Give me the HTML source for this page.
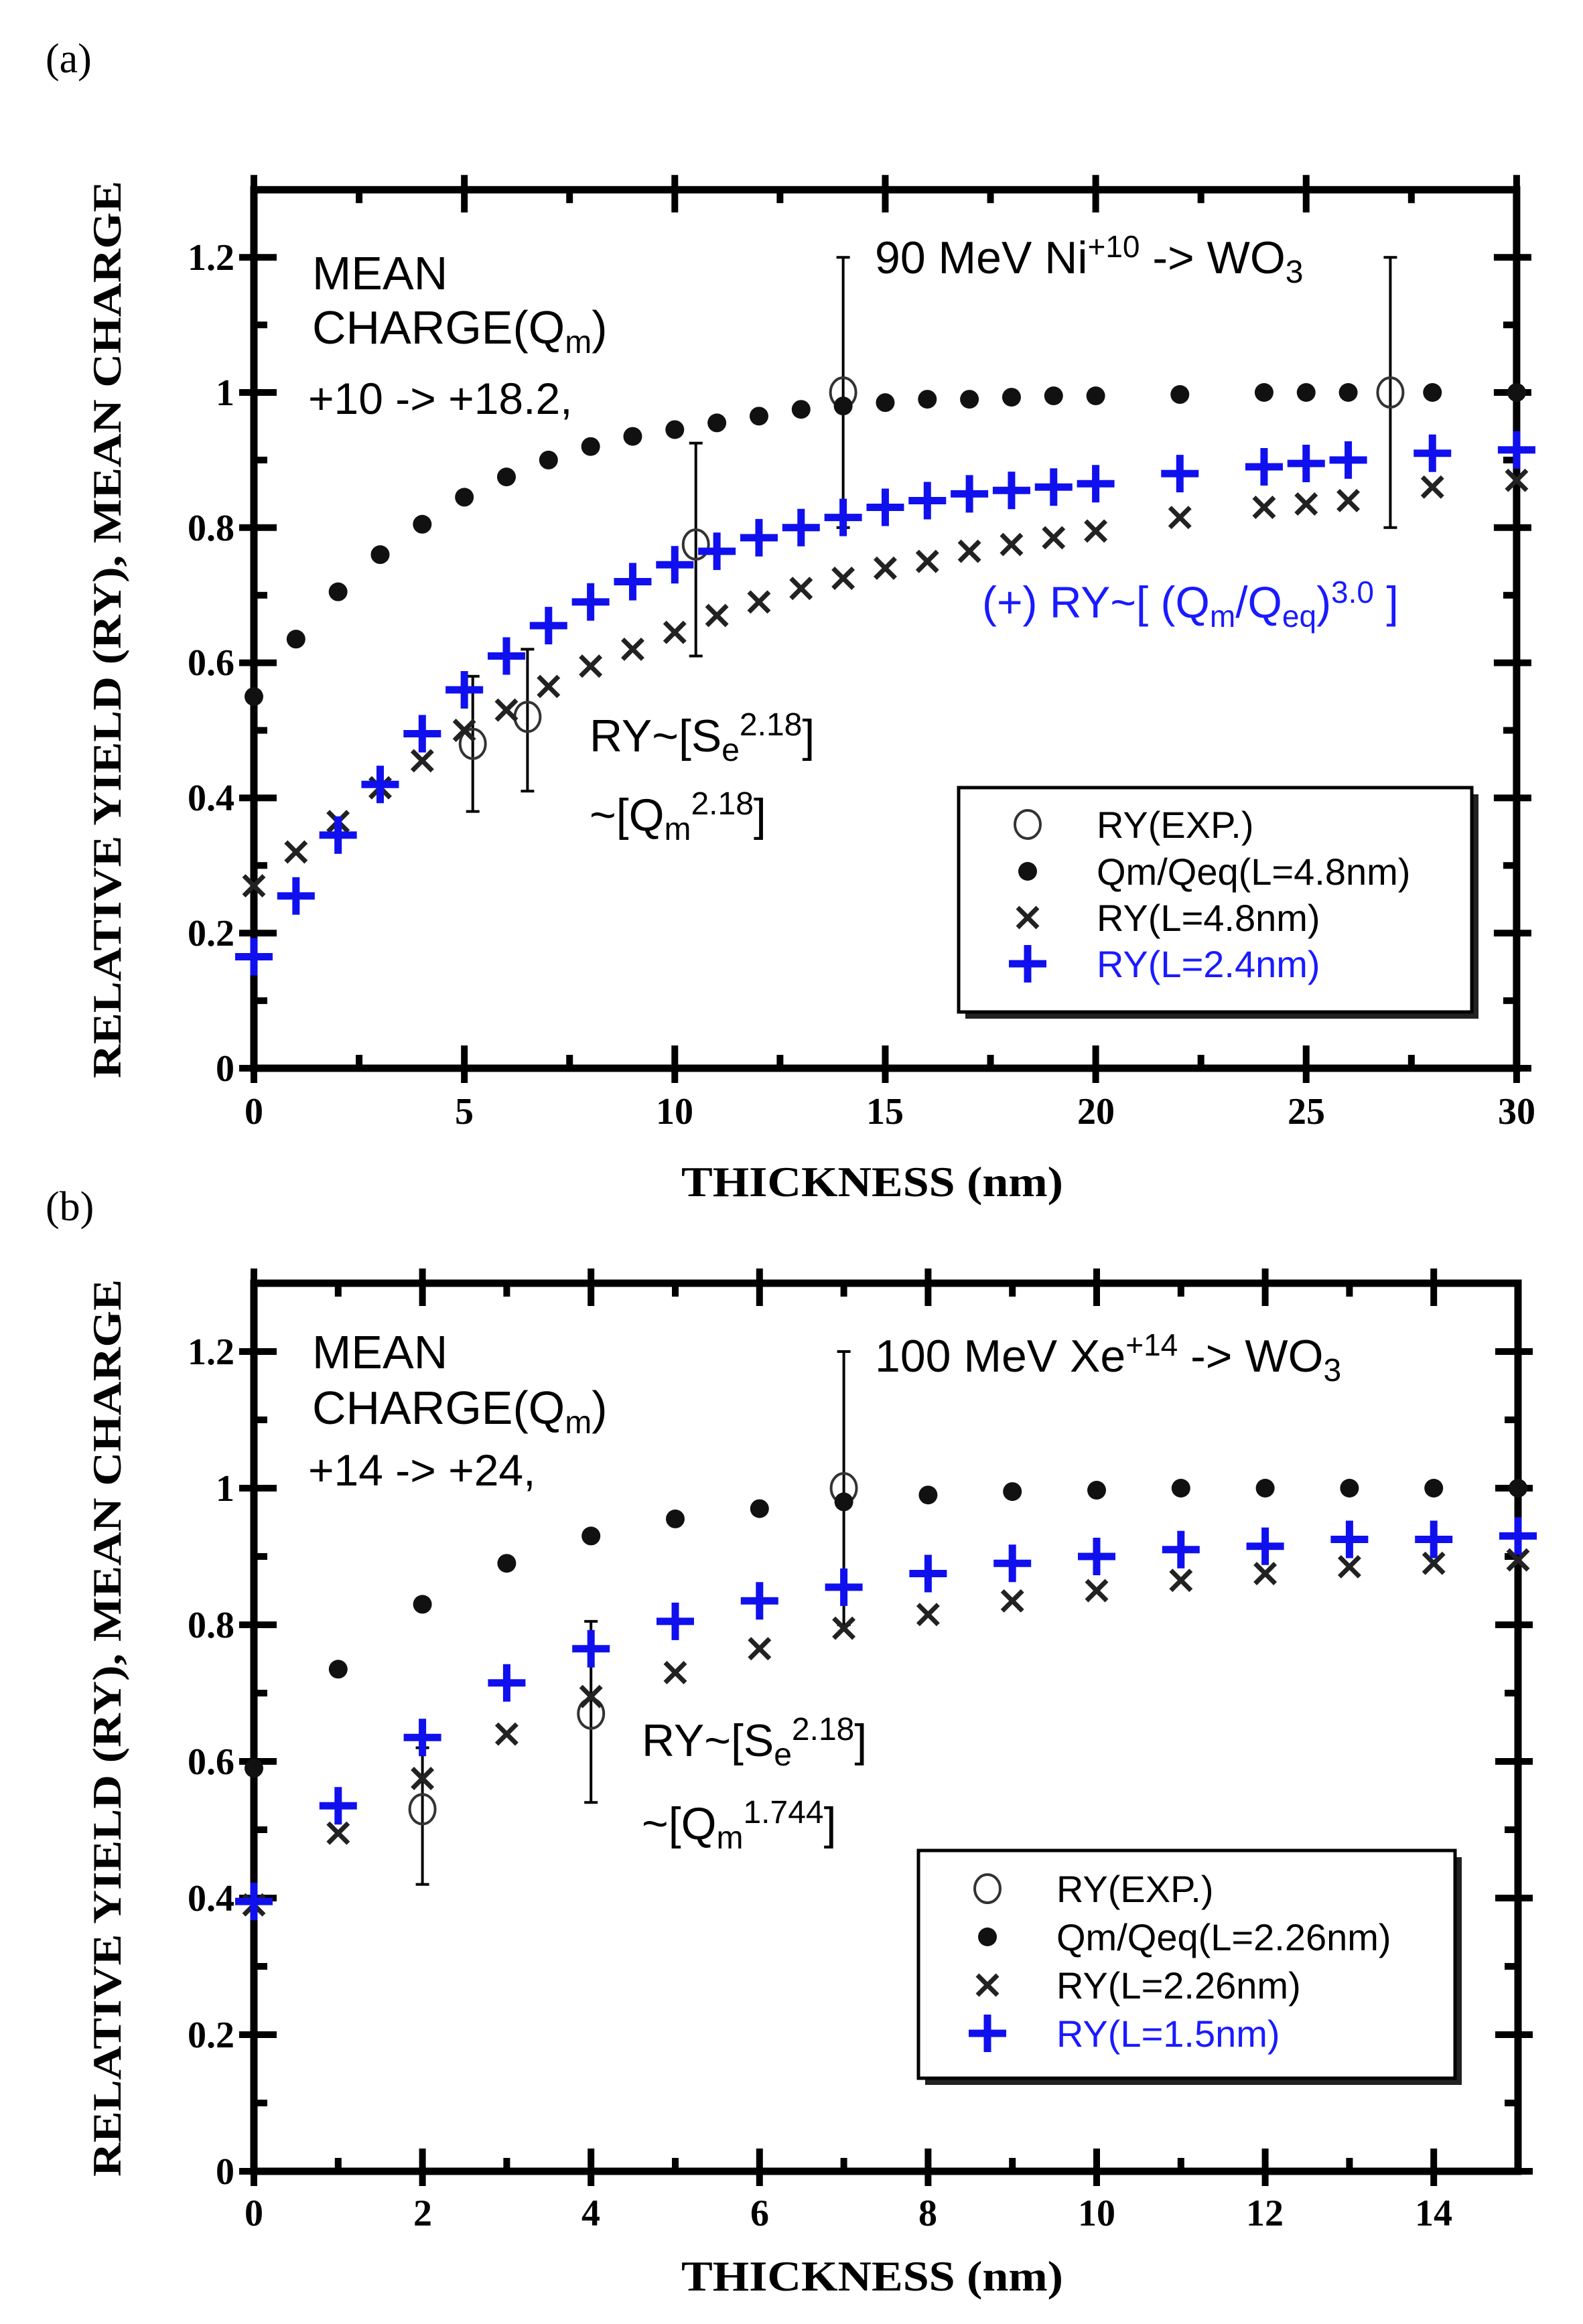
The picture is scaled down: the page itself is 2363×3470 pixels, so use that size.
<!DOCTYPE html>
<html><head><meta charset="utf-8">
<style>
html,body{margin:0;padding:0;background:#fff;}
svg{display:block;}
.ser{font-family:"Liberation Serif",serif;font-weight:bold;}
.san{font-family:"Liberation Sans",sans-serif;}
</style></head>
<body>
<svg id="s" width="2363" height="3470" viewBox="0 0 2363 3470" xmlns="http://www.w3.org/2000/svg">
<rect width="2363" height="3470" fill="#fff"/>
<text x="68" y="108" font-family="Liberation Serif, serif" font-size="62">(a)</text>
<text x="68" y="1822" font-family="Liberation Serif, serif" font-size="62">(b)</text>

<text class="ser" font-size="60" text-anchor="middle" textLength="1340" lengthAdjust="spacingAndGlyphs" transform="translate(180,940) rotate(-90)">RELATIVE YIELD (RY),  MEAN CHARGE</text>
<text class="ser" font-size="60" text-anchor="middle" textLength="1340" lengthAdjust="spacingAndGlyphs" transform="translate(180,2580) rotate(-90)">RELATIVE YIELD (RY),  MEAN CHARGE</text>

<text class="ser" font-size="64" text-anchor="middle" x="1302" y="1786" textLength="570" lengthAdjust="spacingAndGlyphs">THICKNESS  (nm)</text>
<text class="ser" font-size="64" text-anchor="middle" x="1302" y="3420" textLength="570" lengthAdjust="spacingAndGlyphs">THICKNESS  (nm)</text>

<rect x="1441" y="1186" width="766" height="335" fill="#222"/>
<rect x="1431" y="1176" width="766" height="335" fill="#fff" stroke="#000" stroke-width="5"/>
<rect x="1381" y="2773" width="801" height="340" fill="#222"/>
<rect x="1371" y="2763" width="801" height="340" fill="#fff" stroke="#000" stroke-width="5"/>

<g id="g"></g>

<g class="san" font-size="70">
<text x="466" y="432">MEAN</text>
<text x="466" y="513">CHARGE(Q<tspan font-size="48" dy="14">m</tspan><tspan dy="-14">)</tspan></text>
<text x="460" y="618" font-size="66">+10 -&gt; +18.2,</text>
<text x="1306" y="408" font-size="68">90 MeV Ni<tspan font-size="46" dy="-24">+10</tspan><tspan dy="24"> -&gt; WO</tspan><tspan font-size="48" dy="14">3</tspan></text>
<text x="1466" y="922" font-size="66" fill="#1a1aff">(+) RY~[ (Q<tspan font-size="46" dy="14">m</tspan><tspan dy="-14">/Q</tspan><tspan font-size="46" dy="14">eq</tspan><tspan dy="-14">)</tspan><tspan font-size="46" dy="-22">3.0</tspan><tspan dy="22"> ]</tspan></text>
<text x="880" y="1122" font-size="68">RY~[S<tspan font-size="48" dy="14">e</tspan><tspan font-size="48" dy="-38">2.18</tspan><tspan dy="24">]</tspan></text>
<text x="880" y="1240" font-size="68">~[Q<tspan font-size="48" dy="14">m</tspan><tspan font-size="48" dy="-38">2.18</tspan><tspan dy="24">]</tspan></text>
</g>
<g class="san" font-size="70">
<text x="466" y="2043">MEAN</text>
<text x="466" y="2126">CHARGE(Q<tspan font-size="48" dy="14">m</tspan><tspan dy="-14">)</tspan></text>
<text x="460" y="2218" font-size="66">+14 -&gt; +24,</text>
<text x="1306" y="2048" font-size="68">100 MeV Xe<tspan font-size="46" dy="-24">+14</tspan><tspan dy="24"> -&gt; WO</tspan><tspan font-size="48" dy="14">3</tspan></text>
<text x="958" y="2622" font-size="68">RY~[S<tspan font-size="48" dy="14">e</tspan><tspan font-size="48" dy="-38">2.18</tspan><tspan dy="24">]</tspan></text>
<text x="958" y="2746" font-size="68">~[Q<tspan font-size="48" dy="14">m</tspan><tspan font-size="48" dy="-38">1.744</tspan><tspan dy="24">]</tspan></text>
</g>

<g class="san" font-size="56">
<text x="1637" y="1251">RY(EXP.)</text>
<text x="1637" y="1321">Qm/Qeq(L=4.8nm)</text>
<text x="1637" y="1390">RY(L=4.8nm)</text>
<text x="1637" y="1459" fill="#1a1aff">RY(L=2.4nm)</text>
</g>
<g class="san" font-size="56">
<text x="1577" y="2840">RY(EXP.)</text>
<text x="1577" y="2912">Qm/Qeq(L=2.26nm)</text>
<text x="1577" y="2984">RY(L=2.26nm)</text>
<text x="1577" y="3056" fill="#1a1aff">RY(L=1.5nm)</text>
</g>

<g class="ser" font-size="56" text-anchor="end">
<text x="350" y="1614">0</text><text x="350" y="1412">0.2</text><text x="350" y="1210">0.4</text>
<text x="350" y="1008">0.6</text><text x="350" y="807">0.8</text><text x="350" y="605">1</text><text x="350" y="403">1.2</text>
</g>
<g class="ser" font-size="56" text-anchor="middle">
<text x="379" y="1678">0</text><text x="693" y="1678">5</text><text x="1007" y="1678">10</text><text x="1321" y="1678">15</text>
<text x="1636" y="1678">20</text><text x="1950" y="1678">25</text><text x="2264" y="1678">30</text>
</g>
<g class="ser" font-size="56" text-anchor="end">
<text x="350" y="3261">0</text><text x="350" y="3057">0.2</text><text x="350" y="2853">0.4</text>
<text x="350" y="2649">0.6</text><text x="350" y="2445">0.8</text><text x="350" y="2241">1</text><text x="350" y="2037">1.2</text>
</g>
<g class="ser" font-size="56" text-anchor="middle">
<text x="379" y="3323">0</text><text x="631" y="3323">2</text><text x="882" y="3323">4</text><text x="1134" y="3323">6</text>
<text x="1385" y="3323">8</text><text x="1637" y="3323">10</text><text x="1888" y="3323">12</text><text x="2140" y="3323">14</text>
</g>
</svg>
<script>
(function(){
var NS="http://www.w3.org/2000/svg",g=document.getElementById('g');
function el(t,a){var e=document.createElementNS(NS,t);for(var k in a)e.setAttribute(k,a[k]);g.appendChild(e);return e;}
function panel(P){
 var X=function(v){return P.x0+v*P.ux},Y=function(v){return P.y0-v*P.uy};
 var top=Y(1.3),right=X(P.xmax);
 for(var i=0;i<=13;i++){var y=Y(i*0.1),maj=i%2==0;
  el('line',{x1:P.x0-(maj?22:0),x2:P.x0+(maj?34:20),y1:y,y2:y,stroke:'#000','stroke-width':10});
  el('line',{x1:right+(maj?22:0),x2:right-(maj?34:20),y1:y,y2:y,stroke:'#000','stroke-width':10});}
 for(var t=0;t<=P.xmax+1e-9;t+=P.xt){var x=X(t),maj=Math.abs(t/P.xm-Math.round(t/P.xm))<1e-6;
  el('line',{x1:x,x2:x,y1:P.y0+(maj?22:0),y2:P.y0-(maj?34:20),stroke:'#000','stroke-width':10});
  el('line',{x1:x,x2:x,y1:top-(maj?22:0),y2:top+(maj?34:20),stroke:'#000','stroke-width':10});}
 el('rect',{x:P.x0,y:top,width:right-P.x0,height:P.y0-top,fill:'none',stroke:'#000','stroke-width':11});
 P.e.forEach(function(d){var x=X(d[0]);
  el('line',{x1:x,x2:x,y1:Y(d[2]),y2:Y(d[3]),stroke:'#000','stroke-width':4});
  el('line',{x1:x-10,x2:x+10,y1:Y(d[2]),y2:Y(d[2]),stroke:'#000','stroke-width':4});
  el('line',{x1:x-10,x2:x+10,y1:Y(d[3]),y2:Y(d[3]),stroke:'#000','stroke-width':4});
  el('ellipse',{cx:x,cy:Y(d[1]),rx:19,ry:22,fill:'none',stroke:'#333','stroke-width':4});});
 P.d.forEach(function(d){el('circle',{cx:X(d[0]),cy:Y(d[1]),r:14,fill:'#111'});});
 P.c.forEach(function(d){var x=X(d[0]),y=Y(d[1]),s=15;
  el('path',{d:'M'+(x-s)+' '+(y-s)+'L'+(x+s)+' '+(y+s)+'M'+(x+s)+' '+(y-s)+'L'+(x-s)+' '+(y+s),stroke:'#222','stroke-width':7});});
 P.p.forEach(function(d){var x=X(d[0]),y=Y(d[1]),s=28;
  el('path',{d:'M'+(x-s)+' '+y+'L'+(x+s)+' '+y+'M'+x+' '+(y-s)+'L'+x+' '+(y+s),stroke:'#1010ee','stroke-width':11});});
 var L=P.leg,x=L.x,y;
 el('ellipse',{cx:x,cy:L.y[0]-20,rx:19,ry:21,fill:'none',stroke:'#333','stroke-width':4});
 el('circle',{cx:x,cy:L.y[1]-20,r:14,fill:'#111'});
 y=L.y[2]-20;var s=15;
 el('path',{d:'M'+(x-s)+' '+(y-s)+'L'+(x+s)+' '+(y+s)+'M'+(x+s)+' '+(y-s)+'L'+(x-s)+' '+(y+s),stroke:'#222','stroke-width':7});
 y=L.y[3]-20;s=28;
 el('path',{d:'M'+(x-s)+' '+y+'L'+(x+s)+' '+y+'M'+x+' '+(y-s)+'L'+x+' '+(y+s),stroke:'#1010ee','stroke-width':11});
}
function z(a,b){return a.map(function(v,i){return [a[i],b[i]]});}
var ta=[0,1,2,3,4,5,6,7,8,9,10,11,12,13,14,15,16,17,18,19,20,22,24,25,26,28,30];
panel({x0:379,y0:1595,ux:62.83,uy:1009,xmax:30,xt:2.5,xm:5,
 d:z(ta,[0.55,0.635,0.705,0.76,0.805,0.845,0.875,0.9,0.92,0.935,0.945,0.955,0.965,0.975,0.98,0.985,0.99,0.99,0.993,0.995,0.995,0.997,1,1,1,1,1]),
 c:z(ta,[0.27,0.32,0.365,0.415,0.455,0.5,0.53,0.565,0.595,0.62,0.645,0.67,0.69,0.71,0.725,0.74,0.75,0.765,0.775,0.785,0.795,0.815,0.83,0.835,0.84,0.86,0.87]),
 p:z(ta,[0.165,0.255,0.345,0.42,0.495,0.56,0.61,0.655,0.69,0.72,0.745,0.765,0.785,0.8,0.815,0.83,0.84,0.85,0.855,0.86,0.865,0.88,0.89,0.895,0.9,0.91,0.915]),
 e:[[5.2,0.48,0.38,0.58],[6.5,0.52,0.41,0.62],[10.5,0.775,0.61,0.925],[14,1.0,0.8,1.2],[27,1.0,0.8,1.2]],
 leg:{x:1534,y:[1251,1321,1390,1459]}});
var tb=[0,1,2,3,4,5,6,7,8,9,10,11,12,13,14,15];
panel({x0:379,y0:3242,ux:125.8,uy:1020,xmax:15,xt:1,xm:2,
 d:z(tb,[0.59,0.735,0.83,0.89,0.93,0.955,0.97,0.98,0.99,0.995,0.997,1,1,1,1,1]),
 c:z(tb,[0.39,0.495,0.575,0.64,0.695,0.73,0.765,0.795,0.815,0.835,0.85,0.865,0.875,0.885,0.89,0.895]),
 p:z(tb,[0.395,0.535,0.635,0.715,0.765,0.805,0.835,0.855,0.875,0.89,0.9,0.91,0.915,0.925,0.925,0.93]),
 e:[[2,0.53,0.42,0.62],[4,0.67,0.54,0.805],[7,1.0,0.8,1.2]],
 leg:{x:1474,y:[2840,2912,2984,3056]}});
})();
</script>
</body></html>
